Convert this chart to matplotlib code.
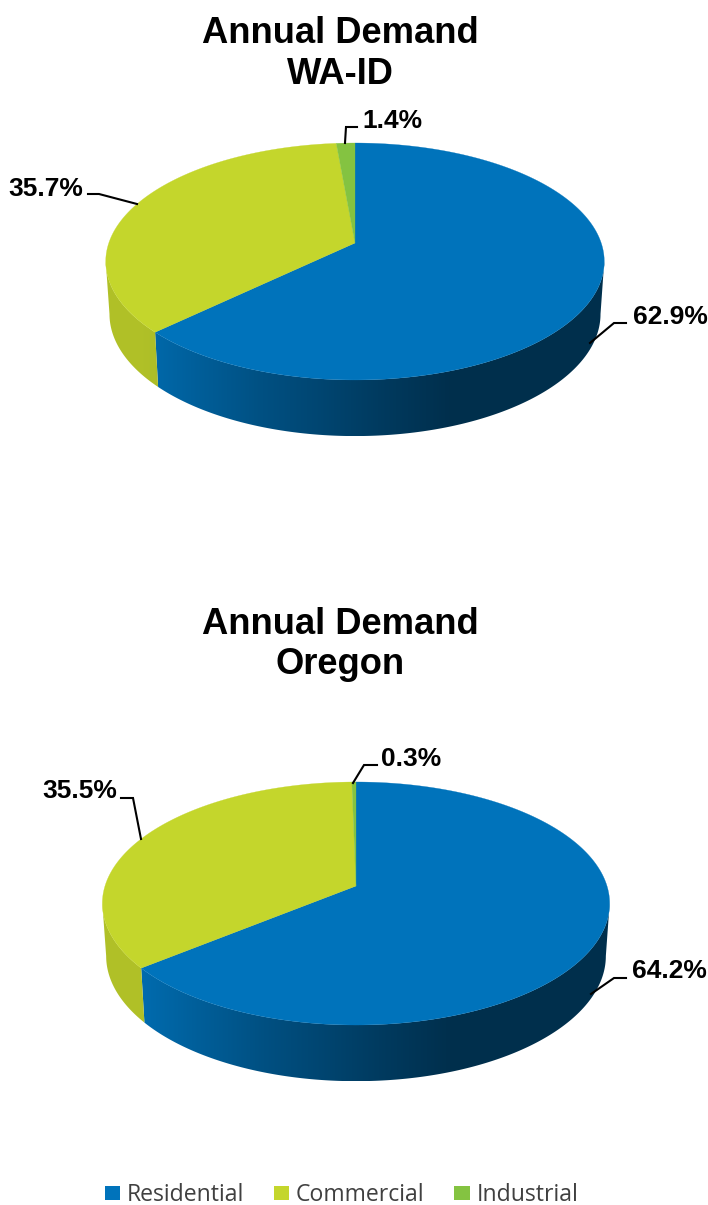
#!/usr/bin/env python3
# two perspective "3D" pies, drawn by hand since matplotlib only does flat ones
import numpy as np
import matplotlib
matplotlib.use("Agg")
import matplotlib.pyplot as plt
from matplotlib.patches import Patch, Polygon

# data
categories = ['Residential', 'Commercial', 'Industrial']
wa_id_share = [62.9, 35.7, 1.4]
oregon_share = [64.2, 35.5, 0.3]
wa_id_title = 'Annual Demand\nWA-ID'
oregon_title = 'Annual Demand\nOregon'

# styles
colors = ['#0073BB', '#C4D62C', '#84C341']
wall_dx = [-260, -214, -95, 25, 95, 260]
wall_shade = [[0.95, 0.93, 0.70, 0.51, 0.41, 0.41],
              [0.90, 0.90, 0.80, 0.70, 0.60, 0.60],
              [0.90, 0.90, 0.80, 0.70, 0.60, 0.60]]

# layout in pixels, y down
wa_id_geom = dict(cx=355, ay=243, A=246.2, B=115.6, k=0.156, dy=52, s=0.985, t=1.03)
oregon_geom = dict(cx=356, ay=886, A=251.0, B=119.0, k=0.144, dy=52, s=0.985, t=1.03)
wa_id_labels = [(633, 316.5, [(626, 323), (614, 323), (590, 343)]),
                (83, 188.5, [(88, 194), (99, 194), (137, 204)]),
                (362, 120.5, [(357, 127), (346, 127), (345, 143)])]
oregon_labels = [(632, 970.5, [(626, 978), (614, 978), (591, 994)]),
                 (117, 791.5, [(121, 798), (133, 798), (141, 839)]),
                 (381, 759.5, [(377, 765), (364, 765), (353, 783)])]


def project(theta, g, wall=False):
    # theta in degrees clockwise from the top of the pie
    u = np.sin(np.radians(theta))
    v = np.cos(np.radians(theta))
    w = 1 + g['k'] * v
    if wall:
        return g['cx'] + g['A'] * g['s'] * u / w, g['ay'] + g['dy'] - g['B'] * g['t'] * v / w
    return g['cx'] + g['A'] * u / w, g['ay'] - g['B'] * v / w


def draw_pie(ax, shares, g, labels, title, title_y):
    edges = np.concatenate([[0], np.cumsum(shares)]) / np.sum(shares) * 360
    # widest point of the ellipse, the wall silhouette starts there
    th_side = np.degrees(np.arccos(-g['k']))

    # side wall first, the top covers what is left over
    for i in range(len(shares)):
        lo = max(edges[i], th_side)
        hi = min(edges[i + 1], 360 - th_side)
        if hi <= lo:
            continue
        th = np.linspace(lo, hi, 300)
        x1, y1 = project(th, g)
        x2, y2 = project(th, g, wall=True)
        xs = np.r_[x1, x2[::-1]]
        ys = np.r_[y1, y2[::-1]]
        # horizontal gradient, clipped to this slice's wall
        px = np.arange(np.floor(xs.min()), np.ceil(xs.max()) + 1)
        base = np.array(matplotlib.colors.to_rgb(colors[i]))
        shade = np.interp(px - g['cx'], wall_dx, wall_shade[i])
        grad = (base[None, :] * shade[:, None])[None, :, :]
        im = ax.imshow(grad, extent=(px[0], px[-1], ys.max(), ys.min()), aspect='auto',
                       interpolation='bilinear', zorder=1)
        im.set_clip_path(Polygon(np.c_[xs, ys], closed=True, transform=ax.transData))

    # top face
    for i in range(len(shares)):
        th = np.linspace(edges[i], edges[i + 1], 300)
        x, y = project(th, g)
        ax.fill(np.r_[g['cx'], x], np.r_[g['ay'], y], color=colors[i], lw=0.2, zorder=2)

    # labels with elbow leaders
    for i, (lx, ly, leader) in enumerate(labels):
        ha = 'right' if i == 1 else 'left'
        ax.text(lx, ly, '%.1f%%' % shares[i], ha=ha, va='center', fontsize=19,
                fontweight='bold', color='black', zorder=4)
        ax.plot([p[0] for p in leader], [p[1] for p in leader], color='black', lw=1.5, zorder=3,
                solid_joinstyle='miter')

    ax.text(340, title_y, title, ha='center', va='center', fontsize=26.2, fontweight='bold',
            linespacing=1.2, color='black')


plt.rcParams['font.family'] = ['Liberation Sans', 'DejaVu Sans']

fig = plt.figure(figsize=(7.08, 12.05), dpi=100)
ax = fig.add_axes([0, 0, 1, 1])

draw_pie(ax, wa_id_share, wa_id_geom, wa_id_labels, wa_id_title, 54)
draw_pie(ax, oregon_share, oregon_geom, oregon_labels, oregon_title, 644.5)

ax.set_xlim(0, 708)
ax.set_ylim(1205, 0)
ax.axis('off')

handles = [Patch(facecolor=c, edgecolor='none', label=n) for c, n in zip(colors, categories)]
leg = ax.legend(handles=handles, loc='center', bbox_to_anchor=(341.5 / 708, 1 - 1195 / 1205), ncol=3,
                frameon=False, borderpad=0, borderaxespad=0, handlelength=0.67,
                handleheight=0.6, handletextpad=0.28, columnspacing=1.3,
                prop={'family': 'Open Sans', 'size': 16.6})
for t in leg.get_texts():
    t.set_color('#404040')

fig.savefig('out.png', dpi=100)
